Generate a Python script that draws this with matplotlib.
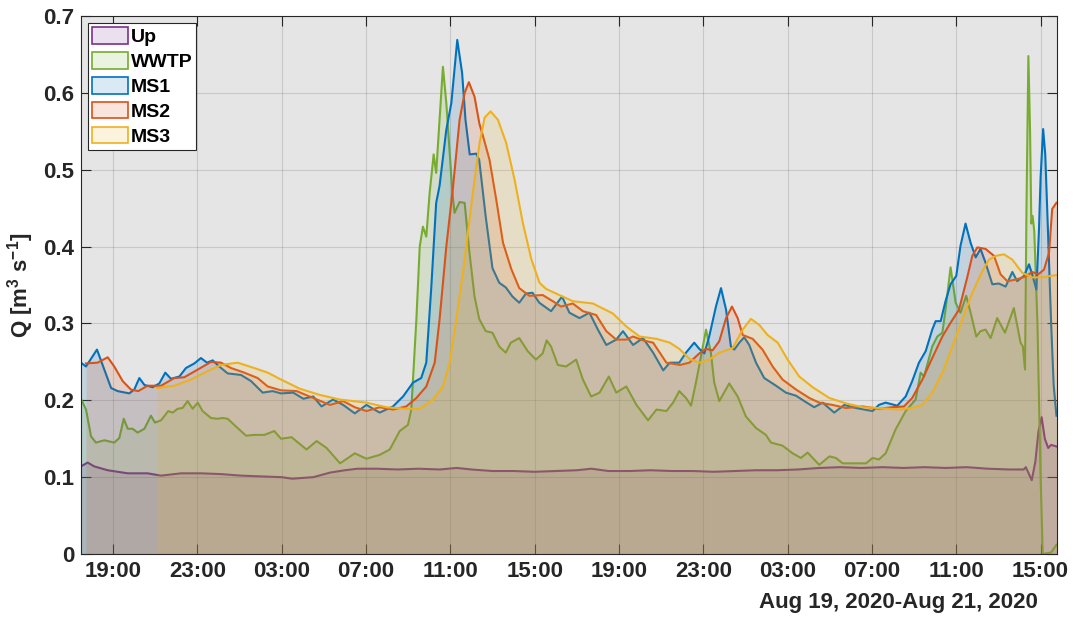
import pandas as pd
import matplotlib
matplotlib.use('Agg')
import matplotlib.pyplot as plt
import matplotlib.dates as mdates
from matplotlib.patches import Patch

plt.rcParams['font.family'] = ['Liberation Sans', 'DejaVu Sans']
plt.rcParams['font.weight'] = 'bold'
plt.rcParams['mathtext.fontset'] = 'custom'
plt.rcParams['mathtext.rm'] = 'Liberation Sans:bold'
plt.rcParams['mathtext.bf'] = 'Liberation Sans:bold'
plt.rcParams['mathtext.default'] = 'bf'

# hours since 2020-08-19 19:00, discharge in m3/s
t0 = pd.Timestamp('2020-08-19 19:00')

up_h = [-1.52, -1.2, -0.89, -0.25, 0.7, 1.64, 2.28, 3.23, 4.17, 5.12, 6.07, 7.02, 8.0, 8.5, 9.5, 10.3,
        11.0, 11.6, 12.5, 13.5, 14.5, 15.5, 16.3, 17.0, 18.0, 19.0, 20.0, 21.0, 22.0, 22.7, 23.5, 24.5,
        25.5, 26.5, 27.5, 28.5, 29.5, 30.5, 31.5, 32.5, 33.5, 34.5, 35.5, 36.5, 37.5, 38.5, 39.5, 40.5,
        41.5, 42.5, 43.2, 43.3, 43.45, 43.58, 43.75, 43.9, 44.05, 44.2, 44.36, 44.5, 44.75]
up_q = [0.114, 0.119, 0.114, 0.109, 0.105, 0.105, 0.102, 0.105, 0.105, 0.104, 0.102, 0.101, 0.100, 0.098,
        0.100, 0.106, 0.109, 0.111, 0.111, 0.110, 0.111, 0.110, 0.112, 0.110, 0.108, 0.108, 0.107, 0.108,
        0.109, 0.111, 0.108, 0.108, 0.109, 0.108, 0.108, 0.107, 0.108, 0.109, 0.109, 0.110, 0.112, 0.113,
        0.112, 0.113, 0.112, 0.113, 0.112, 0.113, 0.111, 0.110, 0.110, 0.113, 0.104, 0.096, 0.120, 0.160,
        0.178, 0.150, 0.138, 0.142, 0.140]

wwtp_h = [-1.52, -1.28, -1.04, -0.81, -0.41, 0.06, 0.3, 0.51, 0.7, 0.93, 1.17, 1.49, 1.8, 1.99, 2.28,
          2.62, 2.83, 3.07, 3.3, 3.54, 3.78, 4.02, 4.25, 4.65, 4.96, 5.2, 5.44, 5.83, 6.31, 6.7, 7.18,
          7.65, 7.97, 8.47, 9.18, 9.66, 10.13, 10.77, 11.47, 12.02, 12.65, 13.13, 13.6, 13.99, 14.15,
          14.39, 14.55, 14.7, 14.86, 15.02, 15.21, 15.33, 15.49, 15.65, 15.81, 15.97, 16.1, 16.2, 16.44,
          16.68, 16.91, 17.15, 17.37, 17.68, 18.0, 18.32, 18.63, 18.87, 19.27, 19.67, 20.06, 20.38,
          20.57, 20.78, 21.1, 21.49, 21.97, 22.29, 22.68, 23.08, 23.52, 23.87, 24.35, 24.83, 25.38,
          25.78, 26.25, 26.57, 26.86, 27.18, 27.42, 27.65, 27.89, 28.13, 28.36, 28.52, 28.76, 29.23,
          29.63, 30.02, 30.5, 30.97, 31.21, 31.76, 32.24, 32.63, 32.95, 33.5, 33.98, 34.29, 34.61,
          35.08, 35.72, 36.03, 36.33, 36.65, 37.12, 37.6, 38.07, 38.31, 38.47, 38.86, 39.1, 39.34,
          39.49, 39.73, 39.97, 40.2, 40.47, 40.68, 40.95, 41.15, 41.39, 41.63, 41.94, 42.31, 42.73,
          43.05, 43.16, 43.26, 43.33, 43.42, 43.5, 43.56, 43.62, 43.7, 43.85, 44.0, 44.1, 44.5, 44.75]
wwtp_q = [0.202, 0.188, 0.153, 0.145, 0.148, 0.145, 0.151, 0.176, 0.163, 0.163, 0.158, 0.163, 0.180,
          0.171, 0.174, 0.186, 0.184, 0.189, 0.190, 0.199, 0.189, 0.197, 0.186, 0.177, 0.176, 0.177,
          0.176, 0.166, 0.154, 0.155, 0.155, 0.160, 0.150, 0.152, 0.136, 0.147, 0.138, 0.118, 0.131,
          0.124, 0.129, 0.136, 0.160, 0.168, 0.188, 0.305, 0.400, 0.426, 0.413, 0.470, 0.520, 0.496,
          0.565, 0.634, 0.587, 0.522, 0.470, 0.444, 0.458, 0.457, 0.392, 0.335, 0.306, 0.290, 0.288,
          0.270, 0.262, 0.275, 0.281, 0.264, 0.253, 0.261, 0.278, 0.270, 0.246, 0.244, 0.253, 0.227,
          0.205, 0.210, 0.231, 0.210, 0.218, 0.194, 0.174, 0.188, 0.186, 0.197, 0.212, 0.203, 0.193,
          0.223, 0.257, 0.292, 0.262, 0.223, 0.199, 0.222, 0.205, 0.179, 0.164, 0.155, 0.145, 0.141,
          0.131, 0.125, 0.132, 0.116, 0.127, 0.125, 0.118, 0.118, 0.118, 0.125, 0.123, 0.131, 0.162,
          0.186, 0.201, 0.236, 0.231, 0.270, 0.283, 0.288, 0.318, 0.373, 0.327, 0.314, 0.336, 0.314,
          0.283, 0.290, 0.292, 0.281, 0.307, 0.288, 0.320, 0.275, 0.270, 0.240, 0.450, 0.648, 0.550,
          0.430, 0.440, 0.420, 0.300, 0.100, 0.000, 0.002, 0.012]

ms1_h = [-1.52, -1.28, -0.76, -0.41, -0.09, 0.22, 0.77, 1.01, 1.25, 1.49, 1.88, 2.2, 2.48, 2.75, 3.15,
         3.46, 3.86, 4.17, 4.46, 4.73, 5.04, 5.44, 6.07, 6.55, 7.1, 7.57, 7.97, 8.55, 9.03, 9.5, 9.89,
         10.44, 10.92, 11.47, 12.02, 12.65, 13.28, 13.76, 14.23, 14.62, 14.86, 15.1, 15.33, 15.49,
         15.81, 16.05, 16.33, 16.56, 16.72, 16.92, 17.23, 17.37, 17.68, 18.0, 18.32, 18.63, 18.95,
         19.27, 19.59, 19.9, 20.22, 20.78, 21.3, 21.65, 22.13, 22.6, 23.0, 23.4, 23.87, 24.19, 24.67,
         25.14, 25.62, 26.1, 26.41, 26.86, 27.18, 27.57, 27.81, 28.05, 28.28, 28.6, 28.84, 29.08,
         29.31, 29.47, 29.71, 29.94, 30.18, 30.5, 30.89, 31.45, 31.92, 32.4, 32.79, 33.26, 33.66,
         34.21, 34.69, 35.24, 36.03, 36.33, 36.65, 37.2, 37.6, 37.91, 38.23, 38.55, 38.86, 39.02,
         39.26, 39.49, 39.73, 40.0, 40.2, 40.44, 40.68, 40.92, 41.15, 41.39, 41.71, 42.02, 42.34,
         42.66, 42.89, 43.21, 43.45, 43.6, 43.8, 43.92, 44.0, 44.12, 44.22, 44.35, 44.5, 44.62, 44.75]
ms1_q = [0.249, 0.244, 0.266, 0.240, 0.216, 0.212, 0.209, 0.214, 0.229, 0.220, 0.217, 0.222, 0.236,
         0.228, 0.231, 0.242, 0.248, 0.255, 0.249, 0.252, 0.244, 0.235, 0.233, 0.225, 0.210, 0.212,
         0.209, 0.210, 0.202, 0.205, 0.192, 0.201, 0.194, 0.183, 0.194, 0.184, 0.192, 0.205, 0.223,
         0.229, 0.249, 0.348, 0.457, 0.479, 0.552, 0.587, 0.669, 0.626, 0.565, 0.520, 0.521, 0.513,
         0.439, 0.372, 0.353, 0.347, 0.335, 0.327, 0.339, 0.340, 0.327, 0.316, 0.335, 0.314, 0.307,
         0.314, 0.292, 0.272, 0.279, 0.290, 0.272, 0.281, 0.262, 0.239, 0.249, 0.249, 0.262, 0.275,
         0.267, 0.261, 0.283, 0.322, 0.346, 0.318, 0.270, 0.266, 0.275, 0.282, 0.272, 0.249, 0.229,
         0.219, 0.210, 0.206, 0.199, 0.191, 0.197, 0.184, 0.194, 0.190, 0.186, 0.194, 0.197, 0.193,
         0.205, 0.225, 0.249, 0.264, 0.292, 0.303, 0.303, 0.329, 0.351, 0.362, 0.401, 0.430, 0.405,
         0.386, 0.397, 0.379, 0.351, 0.352, 0.348, 0.367, 0.355, 0.362, 0.377, 0.364, 0.344, 0.420,
         0.490, 0.553, 0.520, 0.420, 0.300, 0.220, 0.180]

ms2_h = [-1.28, -0.73, -0.25, 0.06, 0.46, 0.85, 1.2, 1.64, 2.28, 2.91, 3.38, 4.02, 4.65, 5.12, 5.6,
         6.23, 6.86, 7.34, 7.97, 8.71, 9.5, 10.29, 10.92, 11.47, 12.02, 12.65, 13.28, 13.91, 14.39,
         14.86, 15.26, 15.49, 15.81, 16.13, 16.44, 16.68, 16.88, 17.15, 17.38, 17.55, 17.86, 18.18,
         18.5, 18.89, 19.27, 19.75, 20.38, 20.86, 21.25, 21.81, 22.29, 22.92, 23.4, 23.87, 24.35,
         24.67, 25.14, 25.62, 26.25, 26.89, 27.34, 27.81, 28.13, 28.44, 28.76, 29.08, 29.36, 29.63,
         29.87, 30.34, 30.81, 31.29, 31.76, 32.4, 33.03, 33.5, 34.13, 34.77, 35.56, 36.33, 36.96,
         37.52, 37.91, 38.39, 38.86, 39.34, 39.73, 40.13, 40.52, 40.76, 41.0, 41.39, 41.79, 42.1,
         42.42, 42.81, 43.29, 43.6, 43.89, 44.16, 44.4, 44.55, 44.75]
ms2_q = [0.248, 0.249, 0.256, 0.244, 0.225, 0.214, 0.212, 0.219, 0.219, 0.229, 0.230, 0.240, 0.250,
         0.249, 0.242, 0.236, 0.229, 0.218, 0.213, 0.212, 0.203, 0.194, 0.199, 0.191, 0.186, 0.191,
         0.188, 0.192, 0.203, 0.218, 0.249, 0.305, 0.400, 0.478, 0.565, 0.600, 0.614, 0.595, 0.560,
         0.544, 0.513, 0.461, 0.405, 0.371, 0.346, 0.336, 0.337, 0.329, 0.322, 0.326, 0.316, 0.311,
         0.290, 0.279, 0.279, 0.283, 0.278, 0.275, 0.249, 0.246, 0.249, 0.261, 0.267, 0.265, 0.277,
         0.307, 0.322, 0.307, 0.285, 0.280, 0.266, 0.244, 0.227, 0.214, 0.203, 0.197, 0.194, 0.190,
         0.192, 0.189, 0.191, 0.192, 0.203, 0.227, 0.255, 0.283, 0.301, 0.318, 0.360, 0.388, 0.399,
         0.397, 0.388, 0.364, 0.355, 0.357, 0.361, 0.367, 0.364, 0.370, 0.392, 0.449, 0.457]

ms3_h = [2.09, 2.91, 3.7, 4.49, 5.12, 5.91, 6.7, 7.34, 7.97, 8.87, 9.81, 10.76, 12.02, 12.97, 13.91,
         14.55, 15.18, 15.65, 15.97, 16.28, 16.6, 16.91, 17.15, 17.39, 17.63, 17.91, 18.26, 18.65,
         19.05, 19.44, 19.84, 20.23, 20.54, 21.17, 21.81, 22.76, 23.71, 24.35, 24.98, 25.78, 26.41,
         26.86, 27.34, 27.81, 28.28, 28.76, 29.39, 29.87, 30.26, 30.66, 31.05, 31.53, 32.0, 32.55,
         33.19, 33.98, 34.77, 35.56, 36.35, 37.28, 37.91, 38.39, 38.86, 39.34, 39.81, 40.28, 40.76,
         41.23, 41.55, 41.87, 42.26, 42.66, 43.13, 43.6, 44.08, 44.75]
ms3_q = [0.216, 0.219, 0.227, 0.238, 0.246, 0.249, 0.242, 0.236, 0.227, 0.215, 0.207, 0.201, 0.197,
         0.191, 0.189, 0.189, 0.201, 0.218, 0.249, 0.305, 0.366, 0.435, 0.487, 0.535, 0.568, 0.576,
         0.565, 0.535, 0.487, 0.431, 0.384, 0.353, 0.345, 0.337, 0.329, 0.326, 0.313, 0.296, 0.283,
         0.280, 0.275, 0.267, 0.254, 0.249, 0.253, 0.262, 0.268, 0.292, 0.306, 0.298, 0.285, 0.275,
         0.253, 0.231, 0.217, 0.203, 0.196, 0.191, 0.190, 0.188, 0.190, 0.194, 0.210, 0.236, 0.270,
         0.305, 0.340, 0.368, 0.383, 0.388, 0.390, 0.383, 0.366, 0.360, 0.360, 0.363]

names = ['Up', 'WWTP', 'MS1', 'MS2', 'MS3']
colors = ['#7E2F8E', '#77AC30', '#0072BD', '#D95319', '#EDB120']
series = [(up_h, up_q), (wwtp_h, wwtp_q), (ms1_h, ms1_q), (ms2_h, ms2_q), (ms3_h, ms3_q)]

y_ticks = [0, 0.1, 0.2, 0.3, 0.4, 0.5, 0.6, 0.7]
y_tick_labels = ['0', '0.1', '0.2', '0.3', '0.4', '0.5', '0.6', '0.7']

fig = plt.figure(figsize=(10.75, 6.19), dpi=100)
ax = fig.add_axes([0.0753, 0.105, 0.908, 0.869])
ax.set_facecolor('#e5e5e5')

handles = []
for i, (name, c, (h, q)) in enumerate(zip(names, colors, series)):
    t = t0 + pd.to_timedelta(h, unit='h')
    ax.fill_between(t, q, 0, color=c, alpha=0.15, linewidth=0, zorder=2 + 2 * i)
    ax.plot(t, q, color=c, lw=1.5, zorder=3 + 2 * i)
    handles.append(Patch(facecolor=matplotlib.colors.to_rgba(c, 0.15), edgecolor=c,
                         linewidth=1.2, label=name))

ax.set_xlim(t0 + pd.Timedelta(hours=-1.52), t0 + pd.Timedelta(hours=44.78))
ax.set_ylim(0, 0.7)
ax.set_yticks(y_ticks)
ax.set_yticklabels(y_tick_labels)
ax.xaxis.set_major_locator(mdates.HourLocator(byhour=[3, 7, 11, 15, 19, 23]))
ax.xaxis.set_major_formatter(mdates.DateFormatter('%H:%M'))

ax.grid(True, color='#262626', alpha=0.15, lw=0.8)
ax.set_axisbelow(False)
for gl in ax.get_xgridlines() + ax.get_ygridlines():
    gl.set_zorder(20)
ax.tick_params(direction='in', length=7, width=0.8, top=True, right=True,
               labelsize=16, colors='#262626')
ax.tick_params(axis='y', pad=5)
ax.tick_params(axis='x', pad=5)
for s in ax.spines.values():
    s.set_color('#262626')
    s.set_linewidth(0.8)
    s.set_zorder(25)

ax.set_ylabel(r'Q [m$^{3}$ s$^{-1}$]', fontsize=16, fontweight='bold', color='#262626')
ax.yaxis.set_label_coords(-0.046, 0.5)
fig.text(0.836, 0.027, 'Aug 19, 2020-Aug 21, 2020', ha='center', va='center',
         fontsize=16, fontweight='bold', color='#262626')

leg = ax.legend(handles=handles, loc='upper left', bbox_to_anchor=(0.0072, 0.987), borderaxespad=0,
                fontsize=14, handlelength=1.85, handleheight=0.95, labelspacing=0.3,
                handletextpad=0.15, borderpad=0.2, fancybox=False, framealpha=1,
                edgecolor='#262626')
leg.get_frame().set_linewidth(0.8)
leg.set_zorder(30)

fig.savefig('out.png', dpi=100)
